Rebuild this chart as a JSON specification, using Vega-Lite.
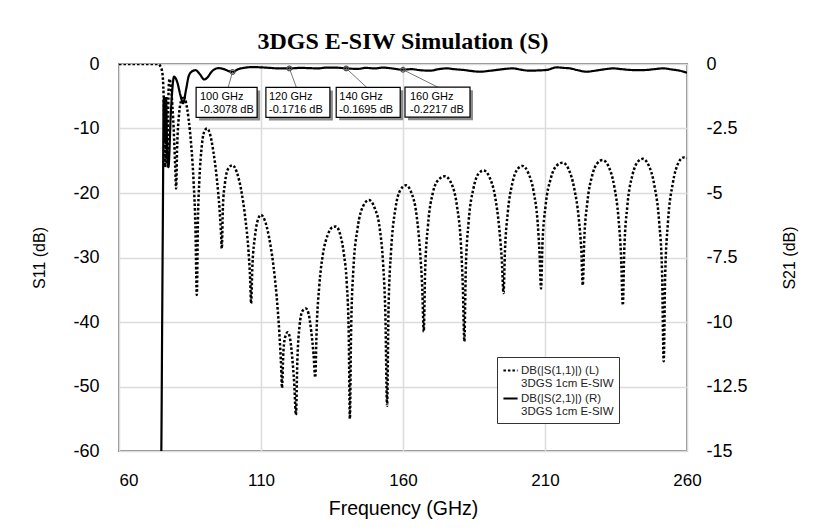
{
  "$schema": "https://vega.github.io/schema/vega-lite/v6.json",
  "width": 568,
  "height": 387,
  "autosize": {"type": "none"},
  "padding": {"left": 119, "top": 64, "right": 135, "bottom": 80},
  "background": "white",
  "title": {"text": "3DGS E-SIW Simulation (S)", "font": "Liberation Serif", "fontSize": 24, "fontWeight": "bold", "color": "black", "anchor": "middle", "baseline": "alphabetic", "offset": 12, "dy": 30},
  "config": {
    "view": {"stroke": "#8a8a8a", "strokeWidth": 2},
    "axis": {"labelFont": "Liberation Sans", "labelFontSize": 18, "labelColor": "black", "titleFont": "Liberation Sans", "titleFontSize": 17, "titleFontWeight": "normal", "titleColor": "black", "gridColor": "#dcdcdc", "gridWidth": 1.5, "domain": false, "ticks": false, "tickSize": 0}
  },
  "datasets": {
    "s11": [
      {"f":60,"v":0},{"f":65,"v":0},{"f":70,"v":0},{"f":73.8,"v":0},{"f":74.5,"v":-0.3},{"f":75.2,"v":-1.2},{"f":75.6,"v":-3.5},{"f":76,"v":-10},{"f":76.3,"v":-16},{"f":76.5,"v":-9},{"f":76.7,"v":-5},{"f":76.9,"v":-12},{"f":77.1,"v":-15.5},{"f":77.3,"v":-8},{"f":77.5,"v":-3.5},{"f":77.8,"v":-2.3},{"f":78.2,"v":-3.2},{"f":78.8,"v":-6.5},{"f":79.4,"v":-11.5},{"f":79.8,"v":-16},{"f":80.1,"v":-19.3},
      {"f":80.5,"v":-12.5},{"f":81.1,"v":-8},{"f":81.8,"v":-5.8},{"f":82.6,"v":-5.0},{"f":83.5,"v":-5.8},{"f":84.5,"v":-8.5},{"f":85.5,"v":-13},{"f":86.3,"v":-18.5},{"f":86.9,"v":-25},{"f":87.4,"v":-35.8},
      {"f":87.8,"v":-24},{"f":88.3,"v":-18},{"f":89.2,"v":-12.5},{"f":90.2,"v":-10.3},{"f":91,"v":-10},{"f":92,"v":-10.8},{"f":93.2,"v":-13.5},{"f":94.5,"v":-18},{"f":95.4,"v":-22.5},{"f":95.9,"v":-26},{"f":96.2,"v":-28.6},
      {"f":96.6,"v":-22},{"f":97.3,"v":-18.5},{"f":98.5,"v":-16.2},{"f":100,"v":-15.7},{"f":101.5,"v":-16.8},{"f":103,"v":-19.5},{"f":104.5,"v":-24},{"f":105.6,"v":-29},{"f":106.2,"v":-33.5},{"f":106.5,"v":-37.1},
      {"f":107,"v":-31},{"f":107.8,"v":-27},{"f":108.8,"v":-24.3},{"f":110,"v":-23.4},{"f":111.3,"v":-24.2},{"f":112.8,"v":-26.8},{"f":114.3,"v":-31},{"f":115.5,"v":-36},{"f":116.5,"v":-42},{"f":117.1,"v":-47},{"f":117.4,"v":-50.2},
      {"f":117.9,"v":-44.5},{"f":118.6,"v":-42.2},{"f":119.4,"v":-41.6},{"f":120.2,"v":-42.5},{"f":121,"v":-45.5},{"f":121.7,"v":-49.5},{"f":122.3,"v":-54.4},
      {"f":122.8,"v":-46},{"f":123.6,"v":-40.5},{"f":124.6,"v":-38.3},{"f":125.8,"v":-37.9},{"f":126.8,"v":-38.8},{"f":127.7,"v":-41.5},{"f":128.5,"v":-45},{"f":129.1,"v":-48.6},
      {"f":129.6,"v":-41},{"f":130.5,"v":-34.5},{"f":131.8,"v":-29.5},{"f":133.5,"v":-26.5},{"f":135.2,"v":-25.3},{"f":136.4,"v":-25.2},{"f":137.8,"v":-26.3},{"f":139.2,"v":-29.5},{"f":140.2,"v":-34},{"f":140.9,"v":-42},{"f":141.3,"v":-55},
      {"f":141.7,"v":-42},{"f":142.5,"v":-32},{"f":144,"v":-25.5},{"f":146,"v":-22},{"f":148,"v":-21.1},{"f":150,"v":-22.3},{"f":151.8,"v":-25.5},{"f":153,"v":-31},{"f":153.8,"v":-39},{"f":154.4,"v":-53},
      {"f":154.9,"v":-38},{"f":155.8,"v":-29},{"f":157.3,"v":-22.5},{"f":159,"v":-19.6},{"f":161,"v":-18.8},{"f":163,"v":-20},{"f":164.8,"v":-23.5},{"f":166,"v":-29},{"f":166.8,"v":-35},{"f":167.3,"v":-41.5},
      {"f":167.8,"v":-32},{"f":168.8,"v":-25},{"f":170.5,"v":-20},{"f":172.6,"v":-17.9},{"f":174.8,"v":-17.4},{"f":177,"v":-18.5},{"f":179,"v":-22},{"f":180.4,"v":-28},{"f":181.1,"v":-35},{"f":181.6,"v":-43},
      {"f":182.1,"v":-32},{"f":183.1,"v":-24.5},{"f":184.8,"v":-19.3},{"f":186.6,"v":-17},{"f":188.4,"v":-16.5},{"f":190.4,"v":-17.5},{"f":192.4,"v":-20.5},{"f":193.9,"v":-25.5},{"f":194.8,"v":-30.5},{"f":195.4,"v":-35.5},
      {"f":195.9,"v":-29},{"f":196.9,"v":-23},{"f":198.5,"v":-18.5},{"f":200.3,"v":-16.3},{"f":202.1,"v":-15.8},{"f":204,"v":-16.8},{"f":206,"v":-19.8},{"f":207.4,"v":-24.5},{"f":208.1,"v":-29.5},{"f":208.6,"v":-34.8},
      {"f":209.1,"v":-28},{"f":210.2,"v":-22},{"f":212,"v":-17.8},{"f":214,"v":-15.8},{"f":216.2,"v":-15.3},{"f":218.3,"v":-16.3},{"f":220.3,"v":-19.3},{"f":221.9,"v":-24},{"f":222.8,"v":-29},{"f":223.3,"v":-34.3},
      {"f":223.8,"v":-27.5},{"f":224.9,"v":-21.5},{"f":226.6,"v":-17.3},{"f":228.4,"v":-15.4},{"f":230.3,"v":-14.9},{"f":232.4,"v":-15.9},{"f":234.4,"v":-19},{"f":235.9,"v":-24},{"f":236.8,"v":-30},{"f":237.4,"v":-37.4},
      {"f":237.9,"v":-29},{"f":239,"v":-22},{"f":240.8,"v":-17.2},{"f":242.6,"v":-15.2},{"f":244.4,"v":-14.7},{"f":246.5,"v":-15.7},{"f":248.5,"v":-18.8},{"f":250.2,"v":-24.5},{"f":251.2,"v":-32},{"f":251.8,"v":-46.1},
      {"f":252.3,"v":-33},{"f":253.3,"v":-24.5},{"f":255,"v":-18.5},{"f":257,"v":-15.3},{"f":258.8,"v":-14.5},{"f":260,"v":-14.6}
    ],
    "s21": [
      {"f":74.7,"v":-16},{"f":74.9,"v":-15},{"f":75.2,"v":-10},{"f":75.5,"v":-5},{"f":75.7,"v":-1.4},{"f":76.0,"v":-1.3},{"f":76.3,"v":-3.0},{"f":76.6,"v":-1.4},{"f":77.0,"v":-3.6},{"f":77.4,"v":-4.0},{"f":78.3,"v":-1.8},{"f":79.4,"v":-0.49},{"f":80.5,"v":-0.7},{"f":81.6,"v":-1.2},{"f":82.6,"v":-1.52},{"f":83.6,"v":-1.0},{"f":84.6,"v":-0.45},{"f":85.8,"v":-0.28},{"f":87,"v":-0.24},{"f":88.5,"v":-0.4},{"f":90,"v":-0.6},{"f":91.3,"v":-0.5},{"f":92.6,"v":-0.3},{"f":95,"v":-0.16},{"f":97,"v":-0.2},{"f":98.5,"v":-0.27},{"f":100,"v":-0.3078},
      {"f":102,"v":-0.2},{"f":104,"v":-0.15},{"f":107,"v":-0.12},{"f":110,"v":-0.13},{"f":113,"v":-0.15},{"f":116,"v":-0.17},{"f":120,"v":-0.1716},{"f":124,"v":-0.15},{"f":127,"v":-0.16},{"f":130,"v":-0.17},{"f":133,"v":-0.14},{"f":136,"v":-0.14},{"f":140,"v":-0.1695},{"f":144,"v":-0.19},{"f":147,"v":-0.15},{"f":150,"v":-0.17},{"f":153,"v":-0.14},{"f":156,"v":-0.17},{"f":160,"v":-0.2217},
      {"f":163,"v":-0.2},{"f":166,"v":-0.24},{"f":169.5,"v":-0.26},{"f":172.5,"v":-0.2},{"f":175.4,"v":-0.17},{"f":178,"v":-0.2},{"f":181.2,"v":-0.23},{"f":184,"v":-0.27},{"f":187.1,"v":-0.3},{"f":190,"v":-0.27},{"f":193,"v":-0.23},{"f":196,"v":-0.19},{"f":198.8,"v":-0.17},{"f":201.5,"v":-0.22},{"f":204.7,"v":-0.26},{"f":207.5,"v":-0.25},{"f":210.6,"v":-0.23},{"f":214.1,"v":-0.13},{"f":216.5,"v":-0.15},{"f":218.8,"v":-0.17},{"f":221.5,"v":-0.24},{"f":224.7,"v":-0.3},{"f":227,"v":-0.27},{"f":229.4,"v":-0.23},{"f":232,"v":-0.19},{"f":234,"v":-0.17},{"f":237,"v":-0.2},{"f":239.9,"v":-0.23},{"f":243,"v":-0.24},{"f":245.8,"v":-0.23},{"f":248.5,"v":-0.2},{"f":251.6,"v":-0.17},{"f":254.5,"v":-0.21},{"f":257.5,"v":-0.26},{"f":260,"v":-0.34}
    ],
    "markers": [
      {"f":100,"v":-0.3078,"label":"100 GHz\n-0.3078 dB"},
      {"f":120,"v":-0.1716,"label":"120 GHz\n-0.1716 dB"},
      {"f":140,"v":-0.1695,"label":"140 GHz\n-0.1695 dB"},
      {"f":160,"v":-0.2217,"label":"160 GHz\n-0.2217 dB"}
    ]
  },
  "encoding": {
    "x": {"field": "f", "type": "quantitative", "scale": {"domain": [60, 260], "nice": false, "zero": false},
      "axis": {"values": [60, 110, 160, 210, 260], "grid": true, "labelFontSize": 17, "labelPadding": 21, "labelFlush": false, "labelAlign": {"condition": {"test": "datum.value == 60", "value": "left"}, "value": "center"}, "title": "Frequency (GHz)", "titleFontSize": 19.5, "titlePadding": 11}}
  },
  "layer": [
    {
      "data": {"name": "s11"},
      "mark": {"type": "line", "color": "black", "strokeWidth": 2.5, "interpolate": "monotone", "clip": true, "strokeCap": "butt"},
      "encoding": {
        "y": {"field": "v", "type": "quantitative", "scale": {"domain": [-60, 0], "nice": false, "zero": false},
          "axis": {"orient": "left", "values": [0, -10, -20, -30, -40, -50, -60], "grid": true, "labelPadding": 20, "labelExpr": "'' + datum.value", "title": "S11 (dB)", "titleFontSize": 16, "titlePadding": 25}},
        "strokeDash": {"datum": "DB(|S(1,1)|) (L)", "type": "nominal",
          "scale": {"domain": ["DB(|S(1,1)|) (L)", "DB(|S(2,1)|) (R)"], "range": [[2.5, 2], [1, 0]]},
          "legend": {"orient": "none", "legendX": 378, "legendY": 293, "title": null, "fillColor": "white", "strokeColor": "#333", "padding": 5, "labelFont": "Liberation Sans", "labelFontSize": 11.5, "labelColor": "#222", "symbolType": "stroke", "symbolSize": 200, "symbolStrokeWidth": 2, "symbolStrokeColor": "black", "rowPadding": 0, "labelOffset": 2, "labelExpr": "[datum.label, '3DGS 1cm E-SIW']"}}
      }
    },
    {
      "encoding": {
        "y": {"field": "v", "type": "quantitative", "scale": {"domain": [-15, 0], "nice": false, "zero": false},
          "axis": {"orient": "right", "values": [0, -2.5, -5, -7.5, -10, -12.5, -15], "grid": false, "labelPadding": 19, "labelAlign": "left", "labelExpr": "'' + datum.value", "title": "S21 (dB)", "titleFontSize": 16, "titleAngle": 270, "titlePadding": 50}}
      },
      "layer": [
        {
          "data": {"name": "s21"},
          "mark": {"type": "line", "color": "black", "strokeWidth": 2.2, "interpolate": "monotone", "clip": true},
          "encoding": {
            "strokeDash": {"datum": "DB(|S(2,1)|) (R)", "type": "nominal", "scale": {"domain": ["DB(|S(1,1)|) (L)", "DB(|S(2,1)|) (R)"], "range": [[2.5, 2], [1, 0]]}}
          }
        },
        {
          "data": {"name": "markers"},
          "mark": {"type": "point", "size": 4, "filled": false, "stroke": "#777", "strokeWidth": 1, "opacity": 1},
          "encoding": {"shape": {"field": "f", "type": "nominal", "legend": null, "scale": {"domain": [100, 120, 140, 160], "range": ["M0,0L-4.5,15.5", "M0,0L7,19", "M0,0L20.5,19", "M0,0L35,17.5"]}}}
        },
        {
          "data": {"name": "markers"},
          "mark": {"type": "point", "size": 4, "filled": true, "fill": "#8c8c8c", "strokeWidth": 0, "opacity": 1, "xOffset": 3, "yOffset": 3},
          "encoding": {"shape": {"field": "f", "type": "nominal", "legend": null, "scale": {"domain": [100, 120, 140, 160], "range": ["M-36.5,15.5H24.5V45.5H-36.5Z", "M-23.5,19H40.5V49H-23.5Z", "M-10,19H54V49H-10Z", "M2,17.5H67V47.5H2Z"]}}}
        },
        {
          "data": {"name": "markers"},
          "mark": {"type": "point", "size": 4, "filled": true, "fill": "white", "stroke": "black", "strokeWidth": 1.2, "opacity": 1},
          "encoding": {"shape": {"field": "f", "type": "nominal", "legend": null, "scale": {"domain": [100, 120, 140, 160], "range": ["M-36.5,15.5H24.5V45.5H-36.5Z", "M-23.5,19H40.5V49H-23.5Z", "M-10,19H54V49H-10Z", "M2,17.5H67V47.5H2Z"]}}}
        },
        {
          "data": {"name": "markers"},
          "mark": {"type": "point", "shape": "circle", "size": 22, "filled": false, "stroke": "#555", "strokeWidth": 1.2, "opacity": 1}
        },
        {
          "data": {"name": "markers"},
          "transform": [{"filter": "datum.f == 100"}],
          "mark": {"type": "text", "align": "left", "baseline": "alphabetic", "dx": -32.6, "dy": 28.1, "font": "Liberation Sans", "fontSize": 11, "lineBreak": "\n", "lineHeight": 13.3, "color": "black"},
          "encoding": {"text": {"field": "label"}}
        },
        {
          "data": {"name": "markers"},
          "transform": [{"filter": "datum.f == 120"}],
          "mark": {"type": "text", "align": "left", "baseline": "alphabetic", "dx": -20.4, "dy": 31.6, "font": "Liberation Sans", "fontSize": 11, "lineBreak": "\n", "lineHeight": 13.3, "color": "black"},
          "encoding": {"text": {"field": "label"}}
        },
        {
          "data": {"name": "markers"},
          "transform": [{"filter": "datum.f == 140"}],
          "mark": {"type": "text", "align": "left", "baseline": "alphabetic", "dx": -6.9, "dy": 31.6, "font": "Liberation Sans", "fontSize": 11, "lineBreak": "\n", "lineHeight": 13.3, "color": "black"},
          "encoding": {"text": {"field": "label"}}
        },
        {
          "data": {"name": "markers"},
          "transform": [{"filter": "datum.f == 160"}],
          "mark": {"type": "text", "align": "left", "baseline": "alphabetic", "dx": 7, "dy": 30.3, "font": "Liberation Sans", "fontSize": 11, "lineBreak": "\n", "lineHeight": 13.3, "color": "black"},
          "encoding": {"text": {"field": "label"}}
        }
      ],
      "resolve": {"scale": {"shape": "independent"}}
    }
  ],
  "resolve": {"scale": {"y": "independent"}}
}
